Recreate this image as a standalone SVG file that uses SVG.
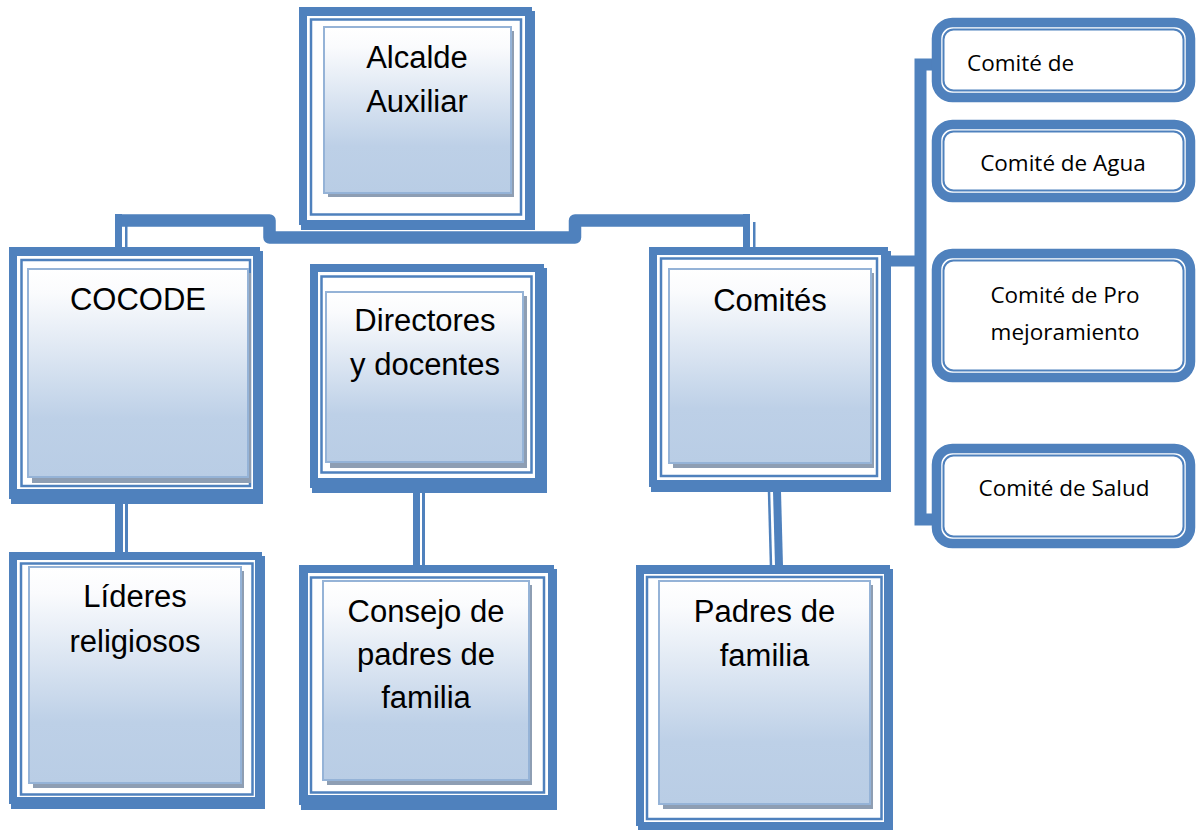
<svg xmlns="http://www.w3.org/2000/svg" width="1197" height="830" viewBox="0 0 1197 830">
<defs>
<linearGradient id="g" x1="0" y1="0" x2="0" y2="1">
<stop offset="0" stop-color="#FFFFFF"/>
<stop offset="0.12" stop-color="#FAFBFD"/>
<stop offset="0.72" stop-color="#BDD0E7"/>
<stop offset="1" stop-color="#B9CDE5"/>
</linearGradient>
<style>
.fr{fill:#4F81BD}
.wh{fill:#FFFFFF}
.th{fill:none;stroke:#4F81BD;stroke-width:2.5}
.sh{fill:#8E9EB3}
.in{fill:url(#g);stroke:#95B3D7;stroke-width:2}
.t{font-family:"Liberation Sans",Arial,sans-serif;font-size:31px;fill:#000;text-anchor:middle}
.rb{fill:#FFFFFF;stroke:#4F81BD;stroke-width:9.5}
.rt{fill:none;stroke:#4F81BD;stroke-width:2}
.s{font-family:"Open Sans","Noto Sans",sans-serif;font-size:22.5px;fill:#000;text-anchor:middle}
.ln{fill:none;stroke:#4F81BD}
.c{fill:#4F81BD}
</style>
</defs>
<rect width="1197" height="830" fill="#FFFFFF"/>
<g id="connectors">
<path class="ln" d="M 115 220.5 H 269.5 V 237.5 H 575 V 220.5 H 750" stroke-width="12.5" stroke-linejoin="round"/>
<rect class="c" x="115" y="214" width="7" height="34"/>
<rect class="c" x="125" y="222" width="2.5" height="26"/>
<rect class="c" x="743" y="214" width="7" height="34"/>
<rect class="c" x="753" y="222" width="2.5" height="26"/>
<rect class="c" x="115" y="503" width="8" height="50"/>
<rect class="c" x="125" y="503" width="3" height="50"/>
<rect class="c" x="413" y="492" width="7" height="74"/>
<rect class="c" x="422" y="492" width="3" height="74"/>
<polygon class="c" points="773,491 781,491 783,566 775,566"/>
<line class="ln" x1="769" y1="491" x2="771" y2="566" stroke-width="2.5"/>
<path class="ln" d="M 942 64.5 H 920.5 V 519.5 H 940" stroke-width="12"/>
<line class="ln" x1="888" y1="261" x2="921" y2="261" stroke-width="11"/>
</g>
<g id="alcalde">
<rect class="fr" x="299" y="7" width="233" height="218"/>
<rect class="fr" x="301" y="11" width="234" height="219"/>
<rect class="wh" x="307" y="16" width="218" height="204"/>
<rect class="th" x="311" y="19.5" width="210" height="195"/>
<rect class="sh" x="328" y="31" width="186" height="166"/>
<rect class="in" x="324" y="27" width="187" height="166"/>
<text class="t" x="417" y="68">Alcalde</text>
<text class="t" x="417" y="112">Auxiliar</text>
</g>
<g id="cocode">
<rect class="fr" x="9" y="247" width="251" height="252"/>
<rect class="fr" x="11" y="251" width="252" height="253"/>
<rect class="wh" x="17" y="256" width="236" height="233"/>
<rect class="th" x="21.5" y="260" width="228.5" height="226"/>
<rect class="sh" x="32" y="273" width="219" height="210"/>
<rect class="in" x="28" y="269" width="220" height="208"/>
<text class="t" x="138" y="310">COCODE</text>
</g>
<g id="directores">
<rect class="fr" x="310" y="264" width="234" height="224"/>
<rect class="fr" x="312" y="268" width="235" height="225"/>
<rect class="wh" x="318" y="272" width="217" height="206"/>
<rect class="th" x="321.5" y="276.5" width="210" height="196"/>
<rect class="sh" x="330" y="296" width="197" height="172"/>
<rect class="in" x="326" y="292" width="197" height="170"/>
<text class="t" x="425" y="331">Directores</text>
<text class="t" x="425" y="375">y docentes</text>
</g>
<g id="comites">
<rect class="fr" x="649" y="247" width="239" height="240"/>
<rect class="fr" x="651" y="251" width="240" height="241"/>
<rect class="wh" x="657" y="255" width="224" height="225"/>
<rect class="th" x="661" y="258.5" width="216" height="217.5"/>
<rect class="sh" x="673" y="273" width="201" height="195"/>
<rect class="in" x="669" y="269" width="202" height="194"/>
<text class="t" x="770" y="311">Comités</text>
</g>
<g id="lideres">
<rect class="fr" x="9" y="552" width="253" height="252"/>
<rect class="fr" x="11" y="556" width="254" height="253"/>
<rect class="wh" x="17" y="560" width="238" height="237"/>
<rect class="th" x="21" y="563.5" width="231.5" height="231"/>
<rect class="sh" x="33" y="571" width="211" height="217"/>
<rect class="in" x="29" y="567" width="212" height="216"/>
<text class="t" x="135" y="607">Líderes</text>
<text class="t" x="135" y="652">religiosos</text>
</g>
<g id="consejo">
<rect class="fr" x="299" y="565" width="255" height="240"/>
<rect class="fr" x="301" y="569" width="256" height="241"/>
<rect class="wh" x="308" y="573" width="240" height="222"/>
<rect class="th" x="311" y="577.5" width="233" height="215"/>
<rect class="sh" x="327" y="585" width="205" height="200"/>
<rect class="in" x="323" y="581" width="206" height="199"/>
<text class="t" x="426" y="622">Consejo de</text>
<text class="t" x="426" y="665">padres de</text>
<text class="t" x="426" y="708">familia</text>
</g>
<g id="padres">
<rect class="fr" x="636" y="565" width="254" height="261"/>
<rect class="fr" x="638" y="569" width="255" height="262"/>
<rect class="wh" x="644" y="574" width="240" height="248"/>
<rect class="th" x="647" y="577" width="234.5" height="242"/>
<rect class="sh" x="663" y="585" width="210" height="224"/>
<rect class="in" x="659" y="581" width="211" height="223"/>
<text class="t" x="764.5" y="622">Padres de</text>
<text class="t" x="764.5" y="666">familia</text>
</g>
<g id="comite-de">
<rect class="rb" x="936.5" y="22.5" width="254" height="75" rx="16"/>
<rect class="rt" x="943.5" y="29.5" width="240" height="61" rx="10"/>
<text class="s" x="967" y="71" style="text-anchor:start">Comité de</text>
</g>
<g id="comite-agua">
<rect class="rb" x="936.5" y="124.5" width="254" height="73" rx="16"/>
<rect class="rt" x="943.5" y="131.5" width="240" height="59" rx="10"/>
<text class="s" x="1063" y="171">Comité de Agua</text>
</g>
<g id="comite-pro">
<rect class="rb" x="936.5" y="253.5" width="254" height="124" rx="16"/>
<rect class="rt" x="943.5" y="260.5" width="240" height="110" rx="10"/>
<text class="s" x="1065" y="303">Comité de Pro</text>
<text class="s" x="1065" y="340">mejoramiento</text>
</g>
<g id="comite-salud">
<rect class="rb" x="936.5" y="448.5" width="254" height="95" rx="16"/>
<rect class="rt" x="943.5" y="455.5" width="240" height="81" rx="10"/>
<text class="s" x="1064" y="496">Comité de Salud</text>
</g>
</svg>
